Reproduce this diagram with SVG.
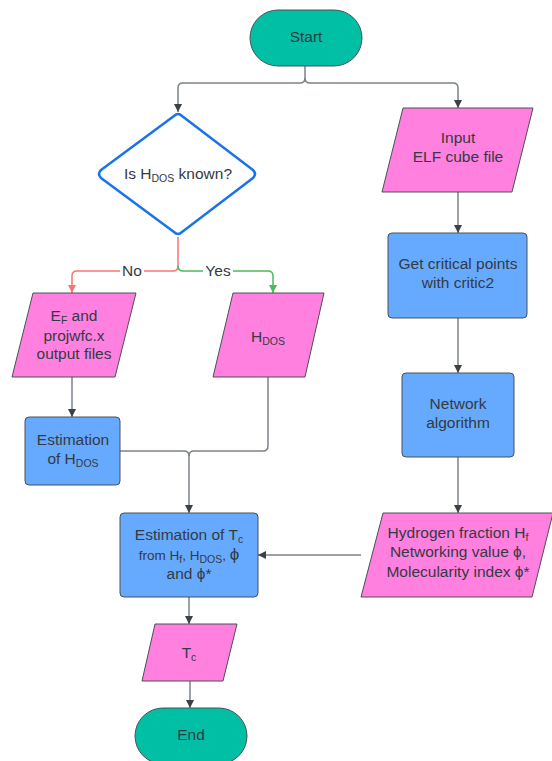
<svg xmlns="http://www.w3.org/2000/svg" width="552" height="761" viewBox="0 0 552 761">
<defs>
<style>
.t{font-family:"Liberation Sans",Arial,sans-serif;font-size:15.5px;fill:#333a44;text-anchor:middle}
.s{font-size:10.5px}
.term{fill:#00bfa5;stroke:#4a5059;stroke-width:1}
.io{fill:#ff80df;stroke:#4a5059;stroke-width:1;stroke-linejoin:round}
.proc{fill:#66aaff;stroke:#4a5059;stroke-width:1}
.c{fill:none;stroke:#7c828b;stroke-width:1.5}
.cr{fill:none;stroke:#f87575;stroke-width:1.5}
.cg{fill:none;stroke:#4dbb5a;stroke-width:1.5}
.lbl{font-family:"Liberation Sans",Arial,sans-serif;font-size:15.5px;fill:#333a44;text-anchor:middle}
</style>
<marker id="ag" viewBox="0 0 10 10" refX="10" refY="5" markerWidth="8" markerHeight="8" markerUnits="userSpaceOnUse" orient="auto"><path d="M0,0 L10,5 L0,10 z" fill="#3a414a"/></marker>
<marker id="ar" viewBox="0 0 10 10" refX="10" refY="5" markerWidth="8" markerHeight="8" markerUnits="userSpaceOnUse" orient="auto"><path d="M0,0 L10,5 L0,10 z" fill="#f87575"/></marker>
<marker id="agr" viewBox="0 0 10 10" refX="10" refY="5" markerWidth="8" markerHeight="8" markerUnits="userSpaceOnUse" orient="auto"><path d="M0,0 L10,5 L0,10 z" fill="#4dbb5a"/></marker>
</defs>
<rect width="552" height="761" fill="#ffffff"/>

<g id="connectors">
<path class="c" d="M305,66 V78 Q305,83 300,83 H183 Q178,83 178,88 V112" marker-end="url(#ag)"/>
<path class="c" d="M305,78 Q305,83 310,83 H453 Q458,83 458,88 V108" marker-end="url(#ag)"/>
<path class="cr" d="M178,237 V266 Q178,271 173,271 H77 Q72,271 72,276 V293" marker-end="url(#ar)"/>
<path class="cg" d="M178,266 Q178,271 183,271 H268 Q273,271 273,276 V293" marker-end="url(#agr)"/>
<rect x="120" y="262" width="24" height="18" fill="#ffffff"/>
<text class="lbl" x="132" y="276">No</text>
<rect x="203" y="262" width="30" height="18" fill="#ffffff"/>
<text class="lbl" x="218" y="276">Yes</text>
<path class="c" d="M72,377 V417" marker-end="url(#ag)"/>
<path class="c" d="M120,451 H184 Q189,451 189,456 V513" marker-end="url(#ag)"/>
<path class="c" d="M268,377 V446 Q268,451 263,451 H194 Q189,451 189,456"/>
<path class="c" d="M458,192 V233" marker-end="url(#ag)"/>
<path class="c" d="M458,318 V373" marker-end="url(#ag)"/>
<path class="c" d="M458,457 V513" marker-end="url(#ag)"/>
<path class="c" d="M361,555 H258" marker-end="url(#ag)"/>
<path class="c" d="M189,597 V624" marker-end="url(#ag)"/>
<path class="c" d="M190,681 V708" marker-end="url(#ag)"/>
</g>

<g id="start">
<rect class="term" x="250" y="10" width="112" height="56" rx="28"/>
<text class="t" x="306" y="42">Start</text>
</g>

<g id="decision">
<path d="M174,116 Q178,112 182,116 L253,170 Q257,174 253,178 L182,232 Q178,236 174,232 L101,178 Q97,174 101,170 Z" fill="#ffffff" stroke="#1a73e8" stroke-width="2.5" stroke-linejoin="round"/>
<text class="t" x="178" y="179">Is H<tspan class="s" dy="3">DOS</tspan><tspan dy="-3"> known?</tspan></text>
</g>

<g id="input-elf">
<path class="io" d="M403,108 H533 L512,192 H382 Z"/>
<text class="t" x="458" y="143">Input</text>
<text class="t" x="458" y="162">ELF cube file</text>
</g>

<g id="ef-files">
<path class="io" d="M33,293 H136 L115,377 H12 Z"/>
<text class="t" x="74" y="321">E<tspan class="s" dy="3">F</tspan><tspan dy="-3"> and</tspan></text>
<text class="t" x="74" y="341">projwfc.x</text>
<text class="t" x="74" y="359">output files</text>
</g>

<g id="hdos-input">
<path class="io" d="M233,293 H324 L305,377 H213 Z"/>
<text class="t" x="268" y="342">H<tspan class="s" dy="3">DOS</tspan></text>
</g>

<g id="est-hdos">
<rect class="proc" x="25" y="417" width="95" height="68" rx="4"/>
<text class="t" x="73" y="445">Estimation</text>
<text class="t" x="73" y="464">of H<tspan class="s" dy="3">DOS</tspan></text>
</g>

<g id="critic2">
<rect class="proc" x="388" y="233" width="139" height="85" rx="4"/>
<text class="t" x="458" y="269">Get critical points</text>
<text class="t" x="458" y="288">with critic2</text>
</g>

<g id="network">
<rect class="proc" x="402" y="373" width="112" height="84" rx="4"/>
<text class="t" x="458" y="409">Network</text>
<text class="t" x="458" y="428">algorithm</text>
</g>

<g id="hydrogen">
<path class="io" d="M383,513 H553 L532,597 H361 Z"/>
<text class="t" x="458" y="538">Hydrogen fraction H<tspan class="s" dy="3">f</tspan></text>
<text class="t" x="458" y="557">Networking value ϕ,</text>
<text class="t" x="458" y="577">Molecularity index ϕ*</text>
</g>

<g id="est-tc">
<rect class="proc" x="120" y="513" width="138" height="84" rx="4"/>
<text class="t" x="189" y="540">Estimation of T<tspan class="s" dy="3">c</tspan></text>
<text class="t" x="189" y="560" style="font-size:13.5px">from H<tspan class="s" dy="3">f</tspan><tspan dy="-3">, H</tspan><tspan class="s" dy="3">DOS</tspan><tspan dy="-3">, </tspan><tspan style="font-size:17px">ϕ</tspan></text>
<text class="t" x="189" y="579">and ϕ*</text>
</g>

<g id="tc">
<path class="io" d="M155,624 H237 L223,681 H142 Z"/>
<text class="t" x="189" y="658">T<tspan class="s" dy="3">c</tspan></text>
</g>

<g id="end">
<rect class="term" x="135" y="708" width="112" height="56" rx="28"/>
<text class="t" x="191" y="740">End</text>
</g>
</svg>
